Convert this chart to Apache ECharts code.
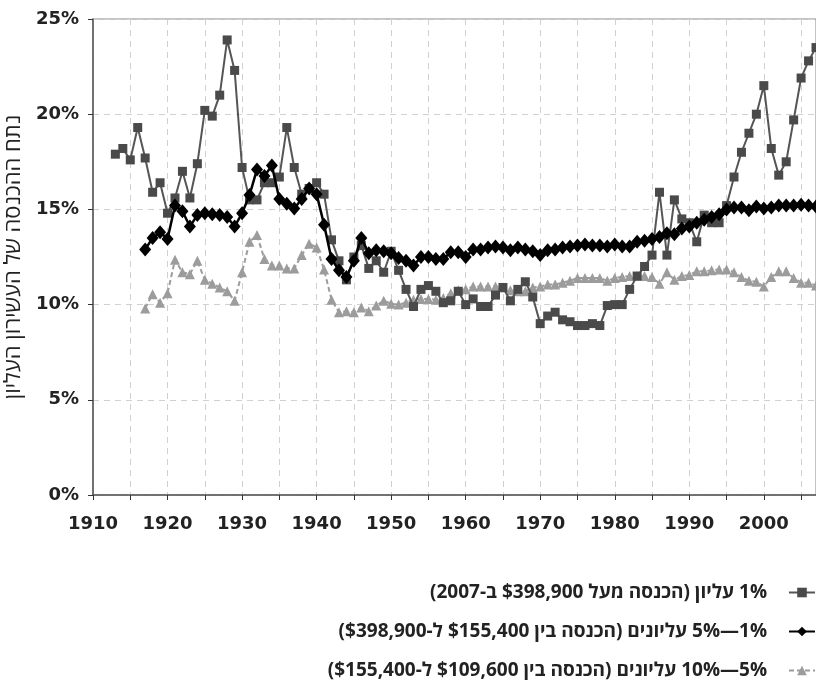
<!DOCTYPE html>
<html>
<head>
<meta charset="utf-8">
<script src="https://cdn.jsdelivr.net/npm/echarts@6/dist/echarts.min.js"></script>
<style>
    html, body { margin: 0; padding: 0; background: #fff; }
    #main { width: 816px; height: 680px; }
</style>
</head>
<body>
<div id="main"></div>
<script>
    // נתוני הגרף - נתח ההכנסה של העשירון העליון (באחוזים)
    var top1Start = 1913;
    var top1 = [
        17.9, 18.2, 17.6, 19.3, 17.7, 15.9, 16.4, 14.8, 15.6, 17.0,
        15.6, 17.4, 20.2, 19.9, 21.0, 23.9, 22.3, 17.2, 15.5, 15.5,
        16.4, 16.4, 16.7, 19.3, 17.2, 15.8, 16.1, 16.4, 15.8, 13.4,
        12.3, 11.3, 12.5, 13.1, 11.9, 12.3, 11.7, 12.8, 11.8, 10.8,
        9.9, 10.8, 11.0, 10.7, 10.1, 10.2, 10.7, 10.0, 10.3, 9.9,
        9.9, 10.5, 10.9, 10.2, 10.8, 11.2, 10.4, 9.0, 9.4, 9.6,
        9.2, 9.1, 8.9, 8.9, 9.0, 8.9, 9.95, 10.0, 10.0, 10.8,
        11.5, 12.0, 12.6, 15.9, 12.6, 15.5, 14.5, 14.3, 13.3, 14.7,
        14.3, 14.3, 15.2, 16.7, 18.0, 19.0, 20.0, 21.5, 18.2, 16.8,
        17.5, 19.7, 21.9, 22.8, 23.5
    ];

    var top1to5Start = 1917;
    var top1to5 = [
        12.9, 13.5, 13.8, 13.45, 15.2, 14.9, 14.1, 14.7, 14.8, 14.75,
        14.7, 14.6, 14.1, 14.8, 15.75, 17.1, 16.75, 17.3, 15.55, 15.3,
        15.05, 15.55, 16.1, 15.8, 14.2, 12.4, 11.8, 11.45, 12.3, 13.5,
        12.7, 12.85, 12.8, 12.7, 12.45, 12.3, 12.05, 12.5, 12.5, 12.4,
        12.4, 12.75, 12.75, 12.5, 12.9, 12.9, 13.0, 13.05, 13.0, 12.85,
        13.0, 12.9, 12.8, 12.6, 12.85, 12.9, 13.0, 13.05, 13.1, 13.15,
        13.1, 13.1, 13.05, 13.15, 13.05, 13.05, 13.3, 13.35, 13.45, 13.55,
        13.75, 13.7, 14.0, 14.1, 14.3, 14.45, 14.6, 14.75, 15.0, 15.1,
        15.1, 14.95, 15.15, 15.05, 15.1, 15.2, 15.2, 15.2, 15.25, 15.2,
        15.15
    ];

    var top5to10Start = 1917;
    var top5to10 = [
        9.8, 10.55, 10.1, 10.6, 12.35, 11.7, 11.6, 12.3, 11.3, 11.1,
        10.9, 10.7, 10.2, 11.7, 13.3, 13.65, 12.4, 12.05, 12.05, 11.9,
        11.9, 12.6, 13.2, 13.0, 11.85, 10.25, 9.6, 9.65, 9.6, 9.85,
        9.65, 9.95, 10.2, 10.05, 10.0, 10.1, 10.25, 10.3, 10.3, 10.25,
        10.35, 10.6, 10.75, 10.8, 10.95, 10.95, 10.95, 10.95, 10.9, 10.75,
        10.7, 10.7, 10.9, 10.95, 11.05, 11.05, 11.15, 11.25, 11.4, 11.4,
        11.4, 11.4, 11.25, 11.4, 11.45, 11.5, 11.5, 11.5, 11.45, 11.1,
        11.7, 11.3, 11.5, 11.55, 11.75, 11.75, 11.8, 11.85, 11.85, 11.7,
        11.45, 11.25, 11.2, 10.95, 11.45, 11.75, 11.75, 11.4, 11.15, 11.15,
        11.0
    ];

    var seriesNames = [
        '1% עליון (הכנסה מעל $398,900 ב-2007)',
        '1%—5% עליונים (הכנסה בין $155,400 ל-$398,900)',
        '5%—10% עליונים (הכנסה בין $109,600 ל-$155,400)'
    ];
    var yAxisTitle = 'נתח ההכנסה של העשירון העליון';

    // עטיפה בכיוון ימין-לשמאל
    function rtl(s) {
        return '\u202B' + s + '\u202C';
    }

    function toPairs(start, values) {
        var out = [];
        for (var i = 0; i < values.length; i++) {
            out.push([start + i, values[i]]);
        }
        return out;
    }

    var myChart = echarts.init(document.getElementById('main'));
    var numFont = '"DejaVu Sans", sans-serif';
    var hebFont = '"Open Sans", sans-serif';

    var option = {
        backgroundColor: '#fff',
        animation: false,
        grid: {
            left: 93,
            right: 0,
            top: 19,
            bottom: 185,
            outerBoundsMode: 'none',
            show: true,
            borderColor: '#888',
            borderWidth: 1
        },
        legend: {
            orient: 'vertical',
            right: 0,
            top: 583,
            padding: 0,
            align: 'right',
            itemWidth: 26,
            itemHeight: 12,
            itemGap: 20,
            textStyle: {
                fontFamily: hebFont,
                fontWeight: 'bold',
                fontSize: 19,
                color: '#222',
                padding: [0, 17, 0, 0]
            },
            data: [rtl(seriesNames[0]), rtl(seriesNames[1]), rtl(seriesNames[2])]
        },
        xAxis: {
            type: 'value',
            min: 1910,
            max: 2007,
            interval: 5,
            axisLine: {
                show: true,
                lineStyle: { color: '#555', width: 1.5 }
            },
            axisTick: {
                show: true,
                length: 5,
                lineStyle: { color: '#333' }
            },
            axisLabel: {
                margin: 20,
                fontFamily: numFont,
                fontWeight: 'bold',
                fontSize: 18,
                color: '#222',
                formatter: function (v) {
                    return v % 10 === 0 ? String(v) : '';
                }
            },
            splitLine: {
                show: true,
                lineStyle: { color: '#d0d0d0', type: [6, 5], width: 1 }
            }
        },
        yAxis: {
            type: 'value',
            min: 0,
            max: 25,
            interval: 5,
            name: rtl(yAxisTitle),
            nameLocation: 'middle',
            nameGap: 62,
            nameTextStyle: {
                fontFamily: hebFont,
                fontSize: 22,
                color: '#222'
            },
            axisLine: {
                show: true,
                lineStyle: { color: '#555', width: 1.5 }
            },
            axisTick: {
                show: true,
                length: 5,
                lineStyle: { color: '#333' }
            },
            axisLabel: {
                margin: 14,
                fontFamily: numFont,
                fontWeight: 'bold',
                fontSize: 18,
                color: '#222',
                formatter: '{value}%'
            },
            splitLine: {
                show: true,
                lineStyle: { color: '#d0d0d0', type: [6, 5], width: 1 }
            }
        },
        series: [
            {
                name: rtl(seriesNames[0]),
                type: 'line',
                data: toPairs(top1Start, top1),
                symbol: 'rect',
                symbolSize: 9,
                showAllSymbol: true,
                color: '#4a4a4a',
                itemStyle: { color: '#4a4a4a' },
                lineStyle: { color: '#555', width: 2 },
                z: 3
            },
            {
                name: rtl(seriesNames[1]),
                type: 'line',
                data: toPairs(top1to5Start, top1to5),
                symbol: 'diamond',
                symbolSize: [12, 14],
                showAllSymbol: true,
                color: '#000',
                itemStyle: { color: '#000' },
                lineStyle: { color: '#000', width: 2.5 },
                z: 4
            },
            {
                name: rtl(seriesNames[2]),
                type: 'line',
                data: toPairs(top5to10Start, top5to10),
                symbol: 'triangle',
                symbolSize: [10, 10],
                showAllSymbol: true,
                color: '#9c9c9c',
                itemStyle: { color: '#9c9c9c' },
                lineStyle: { color: '#9c9c9c', width: 2, type: [5, 3] },
                z: 2
            }
        ]
    };

    myChart.setOption(option);
</script>
</body>
</html>
